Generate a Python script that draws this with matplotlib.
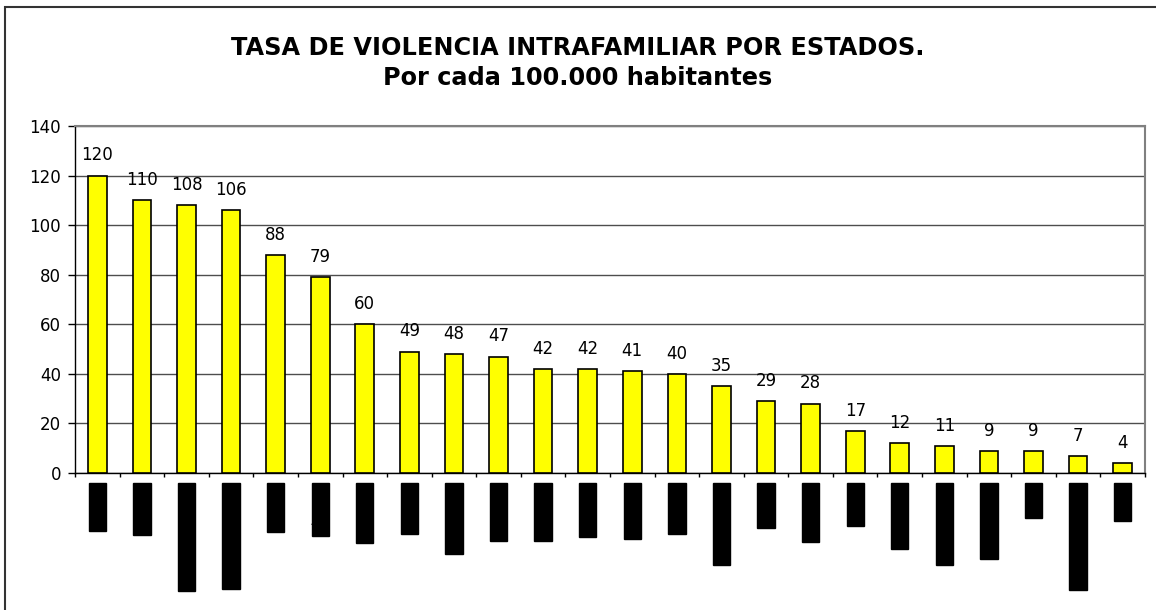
"""Tasa de violencia intrafamiliar por estados (por cada 100.000 habitantes)."""

import matplotlib
matplotlib.use("Agg")
import matplotlib.pyplot as plt
from matplotlib.patches import Rectangle
from matplotlib.transforms import blended_transform_factory
import numpy as np

plt.rcParams["font.family"] = ["DejaVu Sans"]

# ---------------------------------------------------------------- data
# State labels are blacked out in the source; names chosen to match label lengths.
estados = [
    "Falcón", "Bolívar", "Distrito Capital", "Nueva Esparta", "Trujillo",
    "Táchira", "Miranda", "Vargas", "Carabobo", "Guárico", "Yaracuy",
    "Aragua", "Barinas", "Mérida", "Anzoátegui", "Apure", "Cojedes",
    "Sucre", "Monagas", "Portuguesa", "Amazonas", "Lara", "Delta Amacuro",
    "Zulia",
]
tasas = [120, 110, 108, 106, 88, 79, 60, 49, 48, 47, 42, 42, 41, 40,
         35, 29, 28, 17, 12, 11, 9, 9, 7, 4]
yticks = [0, 20, 40, 60, 80, 100, 120, 140]

titulo = "TASA DE VIOLENCIA INTRAFAMILIAR POR ESTADOS.\nPor cada 100.000 habitantes"

# ---------------------------------------------------------------- figure
W, H = 1156, 610
fig = plt.figure(figsize=(W / 100, H / 100), dpi=100)
ax = fig.add_axes([75 / W, 1 - 473 / H, (1145 - 75) / W, (473 - 126) / H])

x = np.arange(len(tasas))
ax.bar(x, tasas, width=0.42, color="#FFFF00", edgecolor="black",
       linewidth=1.2, zorder=3)

for xi, v in zip(x, tasas):
    ax.annotate(f"{v}", (xi, v), xytext=(0, 8), textcoords="offset points",
                ha="center", va="bottom", fontsize=12, color="black")

ax.set_xlim(-0.5, len(tasas) - 0.5)
ax.set_ylim(0, 140)
ax.set_yticks(yticks)
ax.tick_params(axis="y", labelsize=12, length=5, width=1, pad=5)
ax.yaxis.grid(True, color="#4d4d4d", linewidth=1, zorder=0)
ax.set_axisbelow(True)

# tick marks sit between categories, labels under each bar
ax.set_xticks(np.arange(len(tasas) + 1) - 0.5, minor=True)
ax.set_xticks([])
ax.tick_params(axis="x", which="minor", length=3, width=1, direction="out")

for side in ("top", "right"):
    ax.spines[side].set_color("#808080")
    ax.spines[side].set_linewidth(1.5)
for side in ("left", "bottom"):
    ax.spines[side].set_color("black")
    ax.spines[side].set_linewidth(1)

trans = blended_transform_factory(ax.transData, ax.transAxes)
for xi, nombre in zip(x, estados):
    ax.text(xi, -0.035, nombre, transform=trans, rotation=90,
            ha="center", va="top", fontsize=10, color="black",
            bbox=dict(boxstyle="square,pad=0.12", facecolor="black",
                      edgecolor="black"))

fig.text(578 / W, 1 - 63 / H, titulo, ha="center", va="center",
         fontsize=17.3, fontweight="bold", linespacing=1.35)

# outer chart border (cropped at right and bottom)
fig.add_artist(Rectangle((5 / W, -0.1), 1.2, 1 - 7 / H + 0.1,
                         transform=fig.transFigure, fill=False,
                         edgecolor="#333333", linewidth=1.5))

fig.savefig("out.png", dpi=100)
